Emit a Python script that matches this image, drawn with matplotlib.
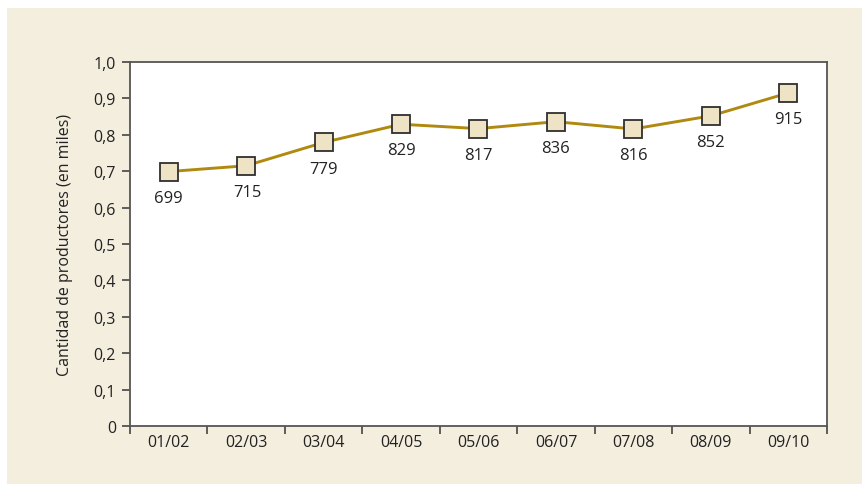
import matplotlib.pyplot as plt
from matplotlib.patches import Rectangle

seasons = ['01/02', '02/03', '03/04', '04/05', '05/06', '06/07', '07/08', '08/09', '09/10']
productores = [699, 715, 779, 829, 817, 836, 816, 852, 915]
y_ticks = [0, 0.1, 0.2, 0.3, 0.4, 0.5, 0.6, 0.7, 0.8, 0.9, 1.0]
y_tick_labels = ['0', '0,1', '0,2', '0,3', '0,4', '0,5', '0,6', '0,7', '0,8', '0,9', '1,0']

W, H = 864, 485
plt.rcParams['font.family'] = ['Open Sans', 'DejaVu Sans']

fig = plt.figure(figsize=(W / 100, H / 100), dpi=100)
fig.patch.set_facecolor('white')

# beige background panel
bg = fig.add_axes([0, 0, 1, 1], zorder=-1)
bg.set_xlim(0, W)
bg.set_ylim(H, 0)
bg.axis('off')
bg.add_patch(Rectangle((7, 9), 862 - 7, H - 9, facecolor='#F4EEDF', edgecolor='none'))

ax = fig.add_axes([130 / W, 1 - 427 / H, (827 - 130) / W, (427 - 63) / H])
ax.set_facecolor('white')

x = list(range(len(seasons)))
y = [v / 1000 for v in productores]
ax.plot(x, y, color='#B08A10', lw=2.1, zorder=2)
ax.plot(x, y, ls='none', marker='s', ms=13, mfc='#EFE3C6', mec='#2f2f2f',
        mew=1.3, zorder=3)

for i, v in enumerate(productores):
    dx = 0.02 if i == 1 else 0.0
    ax.text(i + dx, v / 1000 - 0.072, str(v), ha='center', va='center',
            fontsize=12, color='#222222')

ax.set_xlim(-0.5, len(seasons) - 0.5)
ax.set_ylim(0, 1.0)
ax.set_yticks(y_ticks)
ax.set_yticklabels(y_tick_labels)
ax.set_xticks(x)
ax.set_xticklabels(seasons)
ax.set_xticks([i - 0.5 for i in range(len(seasons) + 1)], minor=True)
ax.tick_params(axis='x', which='major', length=0, pad=6, labelsize=11.5, colors='#222222')
ax.tick_params(axis='x', which='minor', length=6, width=1.2, color='#444444')
ax.tick_params(axis='y', length=6, width=1.2, color='#444444', pad=4,
               labelsize=11.5, labelcolor='#222222')

for s in ax.spines.values():
    s.set_color('#555555')
    s.set_linewidth(1.3)

ax.set_ylabel('Cantidad de productores (en miles)', fontsize=11.5,
              color='#222222', labelpad=15)

fig.savefig('out.png', dpi=100, facecolor=fig.get_facecolor())
